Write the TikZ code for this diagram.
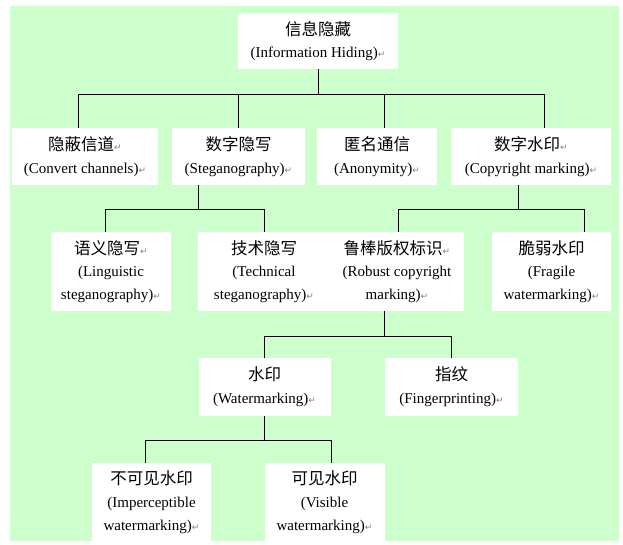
\documentclass[tikz,border=0pt]{standalone}
\usepackage{fontspec}
\setmainfont{Liberation Serif}
\newfontfamily\cjk{Noto Sans CJK SC}
\newfontfamily\symfont{DejaVu Sans}
\usepackage{tikz}
\usetikzlibrary{calc}
\definecolor{bgreen}{HTML}{CCFFCC}
\newcommand{\zh}[1]{{\cjk\fontsize{16.5}{22.7}\selectfont #1}}
\newcommand{\ret}{{\symfont\fontsize{9}{9}\selectfont\textcolor{gray}{↵}}}
\tikzset{
  box/.style={fill=white, inner sep=0pt, align=center, font=\fontsize{15}{22.7}\selectfont},
  link/.style={line width=1pt}
}

\begin{document}
\begin{tikzpicture}[x=1pt,y=-1pt]
\useasboundingbox (0,0) rectangle (623,545);
\fill[bgreen] (10,6) rectangle (619,541);
% root
\node[box, minimum width=160pt, minimum height=56pt] (root) at (318,41) {\zh{信息隐藏}\\(Information Hiding)\ret};
% level 1
\node[box, minimum width=146pt, minimum height=57pt] (covert) at (85,156.5) {\zh{隐蔽信道}\ret\\(Convert channels)\ret};
\node[box, minimum width=133pt, minimum height=57pt] (steg) at (238.5,156.5) {\zh{数字隐写}\\(Steganography)\ret};
\node[box, minimum width=120pt, minimum height=57pt] (anon) at (377,156.5) {\zh{匿名通信}\\(Anonymity)\ret};
\node[box, minimum width=160pt, minimum height=57pt] (copy) at (531,156.5) {\zh{数字水印}\ret\\(Copyright marking)\ret};
% level 2
\node[box, minimum width=120pt, minimum height=79pt] (ling) at (111,271.5) {\zh{语义隐写}\ret\\(Linguistic\\steganography)\ret};
\node[box, minimum width=132pt, minimum height=79pt] (tech) at (264,271.5) {\zh{技术隐写}\\(Technical\\steganography)\ret};
\node[box, minimum width=134pt, minimum height=79pt] (robust) at (397,271.5) {\zh{鲁棒版权标识}\ret\\(Robust copyright\\marking)\ret};
\node[box, minimum width=119pt, minimum height=79pt] (fragile) at (551.5,271.5) {\zh{脆弱水印}\\(Fragile\\watermarking)\ret};
% level 3
\node[box, minimum width=132pt, minimum height=58pt] (water) at (264.5,387) {\zh{水印}\\(Watermarking)\ret};
\node[box, minimum width=133pt, minimum height=58pt] (finger) at (451.5,387) {\zh{指纹}\\(Fingerprinting)\ret};
% level 4
\node[box, minimum width=119pt, minimum height=78pt] (imper) at (151.5,502) {\zh{不可见水印}\\(Imperceptible\\watermarking)\ret};
\node[box, minimum width=120pt, minimum height=78pt] (visible) at (324.5,502) {\zh{可见水印}\\(Visible\\watermarking)\ret};
% links
\draw[link] (root.south) -- ++(0,25) coordinate (j1);
\foreach \n/\d in {covert/-7, steg/0, anon/7, copy/13}
  \draw[link] (j1) -| ($(\n.north)+(\d,0)$);
\draw[link] ($(steg.south)+(-40.5,0)$) -- ++(0,24) coordinate (j2);
\foreach \n/\d in {ling/-6, tech/0}
  \draw[link] (j2) -| ($(\n.north)+(\d,0)$);
\draw[link] ($(copy.south)+(-13,0)$) -- ++(0,24) coordinate (j3);
\foreach \n/\d in {robust/1, fragile/32.5}
  \draw[link] (j3) -| ($(\n.north)+(\d,0)$);
\draw[link] ($(robust.south)+(-13,0)$) -- ++(0,25) coordinate (j4);
\foreach \n/\d in {water/0, finger/0}
  \draw[link] (j4) -| ($(\n.north)+(\d,0)$);
\draw[link] (water.south) -- ++(0,24) coordinate (j5);
\foreach \n/\d in {imper/-6.5, visible/6.5}
  \draw[link] (j5) -| ($(\n.north)+(\d,0)$);
\end{tikzpicture}
\end{document}
